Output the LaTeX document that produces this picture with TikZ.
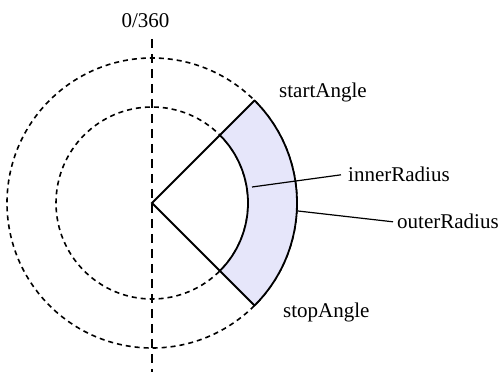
\documentclass[tikz,border=0pt]{standalone}
\usepackage{fontspec}
\setmainfont{Liberation Serif}
\begin{document}
\begin{tikzpicture}[x=1pt,y=1pt,
  lbl/.style={font=\fontsize{21}{25}\selectfont, inner sep=0pt},
  ring/.style={draw=black, line width=1.6pt, dash pattern=on 5pt off 4pt},
  axisline/.style={draw=black, line width=2pt, dash pattern=on 9pt off 6pt},
  sector/.style={draw=black, line width=1.8pt, line join=round, fill={rgb,255:red,230;green,230;blue,250}},
  edge/.style={draw=black, line width=1.8pt},
  leader/.style={draw=black, line width=1.2pt}]
\useasboundingbox (0,0) rectangle (498,372);
\coordinate (c) at (152,169);
\draw[ring] (c) circle[radius=96];
\draw[ring] (c) circle[radius=145];
\coordinate (top) at (152,333);
\coordinate (bot) at (152,0);
\draw[axisline] (top) -- (bot);
\coordinate (o1) at ([shift={(45:145)}]c);
\coordinate (o2) at ([shift={(-45:145)}]c);
\coordinate (i1) at ([shift={(45:96)}]c);
\coordinate (i2) at ([shift={(-45:96)}]c);
\draw[sector] (o1) arc[start angle=45, end angle=-45, radius=145] -- (i2) arc[start angle=-45, end angle=45, radius=96] -- cycle;
\draw[edge] (i1) -- (c) -- (i2);
\node[lbl, anchor=base] (zero) at (145.5,344) {0/360};
\node[lbl, anchor=base west] (start) at (279,274) {startAngle};
\node[lbl, anchor=base west] (stop) at (283,54) {stopAngle};
\node[lbl, anchor=base west] (inner) at (348,190) {innerRadius};
\node[lbl, anchor=base west] (outer) at (397,143) {outerRadius};
\coordinate (ip) at (252,185);
\coordinate (op) at (298,161);
\draw[leader] (ip) -- ([xshift=-7pt]inner.west);
\draw[leader] (op) -- ([xshift=-4pt]outer.west);
\end{tikzpicture}
\end{document}
